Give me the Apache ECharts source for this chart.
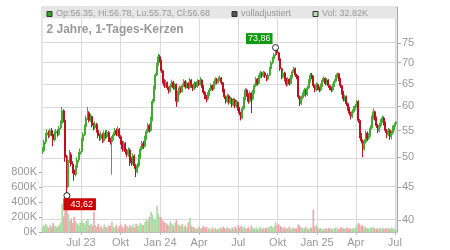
<!DOCTYPE html>
<html>
<head>
<meta charset="utf-8">
<script src="https://cdn.jsdelivr.net/npm/echarts@6/dist/echarts.min.js"></script>
<style>
  html, body { margin: 0; padding: 0; background: #fff; }
  #chart { width: 450px; height: 250px; }
</style>
</head>
<body>
<div id="chart"></div>
<script>
// two candles a week (Mon / Thu), first one on 2023-04-03
var startDay = '2023-04-03';

// [open, close, low, high]
var ohlc = [
  [51.0,51.2,50.6,51.8],[51.2,52.8,50.9,53.2],[52.8,54.0,52.4,54.5],[54.1,54.6,53.6,55.2],[54.6,54.0,53.5,55.0],
  [54.0,55.0,53.7,55.4],[55.0,54.3,53.9,55.5],[54.3,53.2,52.0,54.6],[53.2,54.5,52.9,54.9],[54.5,54.8,54.0,55.3],
  [54.8,54.2,53.8,55.2],[54.2,55.5,54.0,55.9],[55.5,56.4,55.2,57.0],[56.4,59.0,56.2,59.8],[59.0,57.0,56.6,59.3],
  [57.0,50.0,49.2,57.3],[50.0,45.0,43.62,50.4],[45.0,49.5,44.8,50.2],[49.5,50.5,49.0,51.3],[50.5,48.8,48.4,50.9],
  [48.8,47.8,47.2,49.3],[47.8,47.0,46.0,48.2],[47.0,48.2,46.7,48.6],[48.2,49.5,47.9,50.0],[49.5,50.5,49.1,51.0],
  [50.5,51.0,50.0,51.6],[51.0,53.0,50.8,53.5],[53.0,54.2,52.6,54.6],[54.2,55.8,53.9,56.2],[55.8,57.5,55.4,58.0],
  [57.5,58.6,57.1,59.8],[58.6,57.0,56.6,58.9],[57.0,57.8,56.7,58.4],[57.8,56.0,55.6,58.0],[56.0,55.5,55.0,56.5],
  [55.5,56.2,55.2,56.8],[56.2,55.0,54.6,56.5],[55.0,54.0,53.5,55.3],[54.0,53.5,53.0,54.4],[53.5,54.2,53.2,54.8],
  [54.2,53.0,52.6,54.5],[53.0,54.5,52.8,55.0],[54.5,53.8,53.4,55.0],[53.8,54.6,53.5,55.1],[54.6,53.2,52.8,54.9],
  [53.2,52.8,52.3,53.6],[52.8,53.5,47.0,53.9],[53.5,54.2,53.1,54.7],[54.2,55.0,53.9,55.5],[55.0,54.3,53.9,55.4],
  [54.3,55.2,54.0,55.8],[55.2,53.8,53.4,55.5],[53.8,52.8,52.3,54.1],[52.8,51.5,51.0,53.0],[51.5,52.5,51.2,53.0],
  [52.5,51.0,50.5,52.8],[51.0,50.5,50.0,51.5],[50.5,51.3,50.1,51.8],[51.3,49.5,48.5,51.6],[49.5,49.0,48.5,50.0],
  [49.0,50.2,48.7,50.7],[50.2,48.5,48.0,50.5],[48.5,47.5,46.6,48.8],[47.5,48.5,47.2,49.0],[48.5,50.0,48.2,50.5],
  [50.0,51.5,49.7,52.0],[51.5,52.5,51.2,53.0],[52.5,52.0,51.5,53.0],[52.0,53.5,51.8,54.0],[53.5,54.8,53.2,55.3],
  [54.8,56.0,54.5,56.5],[56.0,55.0,54.6,56.3],[55.0,57.0,54.8,57.8],[57.0,61.0,56.8,61.5],[61.0,64.0,60.6,64.5],
  [64.0,67.0,63.6,67.5],[67.0,69.5,66.7,70.0],[69.5,71.5,69.2,72.3],[71.5,70.5,70.0,72.0],[70.5,68.0,67.5,70.8],
  [68.0,65.5,65.0,68.3],[65.5,64.5,64.0,66.0],[64.5,65.2,64.1,65.8],[65.2,64.0,63.5,65.5],[64.0,63.2,62.7,64.3],
  [63.2,64.5,63.0,65.0],[64.5,65.3,64.1,65.9],[65.3,64.0,63.6,65.6],[64.0,64.8,63.6,65.2],[64.8,61.0,59.8,65.0],
  [61.0,62.8,60.7,63.3],[62.8,64.0,62.4,64.5],[64.0,63.2,62.8,64.3],[63.2,64.5,63.0,65.0],[64.5,65.5,64.2,66.0],
  [65.5,64.2,63.8,65.8],[64.2,65.0,63.9,65.5],[65.0,64.0,63.6,65.3],[64.0,65.8,63.8,66.3],[65.8,64.5,64.0,66.0],
  [64.5,63.8,63.3,64.8],[63.8,65.0,63.5,65.5],[65.0,64.3,63.9,65.3],[64.3,65.5,64.0,66.0],[65.5,64.8,64.4,65.8],
  [64.8,65.8,64.5,66.5],[65.8,64.5,64.0,66.0],[64.5,63.0,62.5,64.7],[63.0,62.0,61.5,63.3],[62.0,61.5,60.8,62.4],
  [61.5,62.5,61.2,63.0],[62.5,63.5,62.2,64.0],[63.5,64.5,63.2,65.0],[64.5,63.8,63.3,64.8],[63.8,65.0,63.5,65.5],
  [65.0,66.0,64.7,66.5],[66.0,65.3,64.8,66.3],[65.3,66.0,65.0,66.6],[66.0,66.3,65.6,66.9],[66.3,65.2,64.7,66.5],
  [65.2,63.5,63.0,65.4],[63.5,62.0,61.5,63.8],[62.0,61.0,60.5,62.3],[61.0,62.2,60.7,62.7],[62.2,60.8,60.3,62.5],
  [60.8,61.5,60.4,62.0],[61.5,60.2,59.7,61.8],[60.2,61.3,59.9,61.8],[61.3,60.0,59.5,61.6],[60.0,60.8,59.6,61.3],
  [60.8,59.5,59.0,61.0],[59.5,58.5,58.0,59.8],[58.5,57.5,57.0,58.8],[57.5,59.5,57.3,60.0],[59.5,61.5,59.2,62.0],
  [61.5,63.5,61.2,64.0],[63.5,62.5,62.0,63.8],[62.5,61.0,60.5,62.8],[61.0,62.8,60.7,63.3],[62.8,61.5,58.5,63.0],
  [61.5,63.0,61.2,63.5],[63.0,64.5,62.7,65.0],[64.5,66.0,64.2,66.5],[66.0,65.0,64.5,66.3],[65.0,66.5,64.8,67.0],
  [66.5,67.5,66.2,68.0],[67.5,66.8,66.3,67.8],[66.8,67.5,66.5,68.0],[67.5,66.8,66.3,67.8],[66.8,66.0,65.5,67.0],
  [66.0,67.0,65.7,67.5],[67.0,68.5,66.7,69.0],[68.5,70.0,68.2,70.5],[70.0,71.0,69.6,71.5],[71.0,72.0,70.6,72.5],
  [72.0,73.2,71.6,73.86],[73.2,72.5,72.0,73.5],[72.5,71.0,70.5,72.8],[71.0,68.5,68.0,71.3],[68.5,66.5,66.0,68.8],
  [66.5,67.5,66.2,68.0],[67.5,66.0,65.5,67.8],[66.0,64.8,64.3,66.3],[64.8,66.0,64.5,66.5],[66.0,65.0,64.5,66.2],
  [65.0,66.5,64.8,67.0],[66.5,67.8,66.2,68.3],[67.8,68.5,67.5,69.0],[68.5,67.0,66.5,68.8],[67.0,66.5,66.0,67.3],
  [66.5,62.0,61.5,66.8],[62.0,60.5,60.0,62.3],[60.5,61.8,60.2,62.3],[61.8,62.5,61.4,63.0],[62.5,63.5,62.2,64.0],
  [63.5,62.5,62.0,63.8],[62.5,64.0,62.2,64.5],[64.0,65.5,63.7,66.0],[65.5,67.0,65.2,67.5],[67.0,66.5,66.0,67.5],
  [66.5,64.5,64.0,66.8],[64.5,63.5,63.0,64.8],[63.5,64.8,63.2,65.3],[64.8,64.0,63.5,65.0],[64.0,63.5,63.0,64.3],
  [63.5,64.5,63.2,65.0],[64.5,65.8,64.2,66.3],[65.8,66.2,65.4,66.7],[66.2,65.0,64.6,66.4],[65.0,65.8,64.7,66.3],
  [65.8,64.5,64.0,66.0],[64.5,64.0,63.5,64.8],[64.0,63.5,63.0,64.3],[63.5,64.5,63.2,65.0],[64.5,65.5,64.2,66.0],
  [65.5,66.5,65.2,67.0],[66.5,67.3,66.2,67.6],[67.3,66.0,65.5,67.5],[66.0,64.5,64.0,66.3],[64.5,63.0,62.5,64.8],
  [63.0,61.5,61.0,63.3],[61.5,62.0,61.0,62.5],[62.0,60.5,60.0,62.3],[60.5,59.5,59.0,60.8],[59.5,58.5,58.0,59.8],
  [58.5,57.8,57.2,58.8],[57.8,58.8,57.5,59.3],[58.8,59.5,58.5,60.0],[59.5,60.0,59.2,60.5],[60.0,61.0,59.7,61.3],
  [61.0,57.0,56.5,61.2],[57.0,54.0,53.5,57.3],[54.0,53.0,52.5,54.5],[53.0,51.5,50.0,53.3],[51.5,52.8,51.2,53.3],
  [52.8,54.5,52.5,55.0],[54.5,53.5,53.0,54.8],[53.5,54.0,53.2,54.5],[54.0,55.5,53.8,56.0],[55.5,57.5,55.2,58.0],
  [57.5,58.8,57.2,59.5],[58.8,57.5,57.0,59.0],[57.5,56.0,55.5,57.8],[56.0,55.0,54.5,56.3],[55.0,56.0,54.7,56.5],
  [56.0,56.8,55.6,57.3],[56.8,57.5,56.5,58.0],[57.5,56.5,56.0,57.8],[56.5,55.0,54.5,56.8],[55.0,54.2,53.5,55.3],
  [54.2,55.0,53.9,55.5],[55.0,53.8,53.2,55.3],[53.8,54.5,53.3,55.0],[54.5,55.5,54.2,56.0],[55.5,56.0,55.0,56.5],
  [56.35,56.68,55.73,56.78]
];

// volume in thousand shares
var volumes = [
  70,90,110,80,60,95,70,120,85,65,75,100,130,
  380,210,290,460,
  240,150,180,120,200,140,110,90,130,160,120,100,150,180,90,110,80,270,
  90,70,110,60,80,50,100,70,60,90,80,140,70,60,90,50,80,100,60,70,110,80,60,90,
  70,100,60,110,90,80,120,100,90,130,170,150,
  200,270,230,180,160,350,240,200,190,150,130,120,
  100,90,140,110,80,120,160,100,90,80,110,70,90,60,130,190,80,70,
  60,40,50,70,40,55,80,60,70,45,50,35,60,40,55,30,45,60,50,70,55,40,65,50,35,
  60,45,70,50,90,60,80,55,70,45,50,65,40,85,55,45,60,35,50,70,40,55,45,60,50,
  70,80,60,75,130,90,110,80,70,55,65,45,50,70,40,55,60,45,50,100,80,60,55,45,70,50,40,60,55,300,
  75,90,60,45,55,40,35,50,45,55,40,50,35,45,60,50,40,55,65,50,40,60,45,55,40,50,45,60,90,
  120,100,80,90,60,70,50,45,60,55,70,45,50,40,55,45,60,40,50,45,55,40,60,50,45,32.82
];

var quarterDates = ['2023-07-01', '2023-10-01', '2024-01-01', '2024-04-01', '2024-07-01',
  '2024-10-01', '2025-01-01', '2025-04-01', '2025-07-01'];
var quarterLabels = ['Jul 23', 'Okt', 'Jan 24', 'Apr', 'Jul', 'Okt', 'Jan 25', 'Apr', 'Jul'];
var priceTicks = [40, 45, 50, 55, 60, 65, 70, 75];
var volumeTicks = [0, 200000, 400000, 600000, 800000];
var priceMin = 38.33, priceMax = 85.33;

var upColor = '#44aa33', downColor = '#bb1122';
var upVol = '#a8daa0', downVol = '#f0a4ac';
var font = 'Liberation Sans, Arial, sans-serif';

function ts(s) {
  var p = s.split('-');
  return Date.UTC(+p[0], +p[1] - 1, +p[2]);
}

function deNum(v) {
  return v.toFixed(2).replace('.', ',');
}

var dates = [];
var d = ts(startDay);
for (var i = 0; i < ohlc.length; i++) {
  dates.push(d);
  d += (i % 2 === 0 ? 3 : 4) * 86400000;
}

var candles = [], volBars = [];
var maxI = 0, minI = 0;
for (var i = 0; i < ohlc.length; i++) {
  var q = ohlc[i];
  candles.push([dates[i], Math.log(q[0]), Math.log(q[1]), Math.log(q[2]), Math.log(q[3])]);
  volBars.push({
    value: [dates[i], volumes[i] * 1000],
    itemStyle: { color: q[1] >= q[0] ? upVol : downVol }
  });
  if (q[3] > ohlc[maxI][3]) maxI = i;
  if (q[2] < ohlc[minI][2]) minI = i;
}

var quarterTs = quarterDates.map(ts);
var logTicks = priceTicks.map(function (v) { return Math.log(v); });

// grid lines at the price ticks and the quarter starts
var gridLines = [];
logTicks.forEach(function (v) { gridLines.push({ yAxis: v }); });
quarterTs.forEach(function (v) { gridLines.push({ xAxis: v }); });

var last = ohlc[ohlc.length - 1];
var legendText = 'Op:' + last[0].toFixed(2) + ', Hi:' + last[3].toFixed(2) +
  ', Lo:' + last[2].toFixed(2) + ', Cl:' + last[1].toFixed(2);
var volText = 'Vol: ' + volumes[volumes.length - 1].toFixed(2) + 'K';

var gray = '#999';
var myChart = echarts.init(document.getElementById('chart'));

var option = {
  animation: false,
  grid: {
    left: 42, right: 53, top: 7, bottom: 18,
    show: true, borderColor: '#ccc', borderWidth: 1
  },
  xAxis: {
    type: 'value',
    min: ts('2023-04-01'),
    max: ts('2025-07-06'),
    axisLine: { lineStyle: { color: '#bbb' } },
    axisTick: { customValues: quarterTs, length: 3, lineStyle: { color: '#bbb' } },
    axisLabel: {
      customValues: quarterTs,
      color: gray, fontSize: 11, margin: 5, fontFamily: font,
      formatter: function (v) {
        for (var k = 0; k < quarterTs.length; k++) {
          if (Math.abs(quarterTs[k] - v) < 86400000) return quarterLabels[k];
        }
        return '';
      }
    },
    splitLine: { show: false }
  },
  yAxis: [{
    type: 'value',
    position: 'right',
    min: Math.log(priceMin),
    max: Math.log(priceMax),
    axisLine: { show: true, lineStyle: { color: '#aaa' } },
    axisTick: { show: true, customValues: logTicks, length: 4, lineStyle: { color: '#aaa' } },
    axisLabel: {
      customValues: logTicks,
      color: gray, fontSize: 11, margin: 5, fontFamily: font,
      formatter: function (v) { return Math.round(Math.exp(v)); }
    },
    splitLine: { show: false }
  }, {
    type: 'value',
    position: 'left',
    min: 0,
    max: 3000000,
    axisLine: { show: false },
    axisTick: { show: true, customValues: volumeTicks, length: 3, lineStyle: { color: '#aaa' } },
    axisLabel: {
      customValues: volumeTicks,
      color: gray, fontSize: 11, margin: 5, fontFamily: font,
      formatter: function (v) { return (v / 1000) + 'K'; }
    },
    splitLine: { show: false }
  }],
  series: [{
    name: 'Vol',
    type: 'bar',
    yAxisIndex: 1,
    data: volBars,
    barWidth: 1.6,
    z: 2
  }, {
    name: 'Kurs',
    type: 'candlestick',
    yAxisIndex: 0,
    data: candles,
    encode: { x: 0, y: [1, 2, 3, 4] },
    barWidth: 1.5,
    z: 3,
    itemStyle: {
      color: upColor, color0: downColor,
      borderColor: upColor, borderColor0: downColor,
      borderWidth: 1
    },
    markLine: {
      silent: true,
      z: 1,
      symbol: ['none', 'none'],
      label: { show: false },
      lineStyle: { color: '#dadada', width: 1, type: 'solid' },
      emphasis: { disabled: true },
      data: gridLines
    },
    markPoint: {
      silent: true,
      symbol: 'circle',
      symbolSize: 6,
      itemStyle: { color: '#fff', borderColor: '#222', borderWidth: 1 },
      data: [{
        coord: [dates[maxI], Math.log(ohlc[maxI][3])],
        label: {
          show: true, position: [-26, -11],
          formatter: deNum(ohlc[maxI][3]),
          color: '#fff', fontSize: 9, fontFamily: font,
          backgroundColor: '#129912', padding: [1, 2, 1, 2], lineHeight: 9
        }
      }, {
        coord: [dates[minI], Math.log(ohlc[minI][2])],
        label: {
          show: true, position: [0, 6],
          formatter: deNum(ohlc[minI][2]),
          color: '#fff', fontSize: 9, fontFamily: font,
          backgroundColor: '#cc0000', padding: [1, 3, 1, 7], lineHeight: 10
        }
      }]
    }
  }],
  graphic: [
    { type: 'rect', z: 10, shape: { x: 42.5, y: 8, width: 354, height: 10.5 }, style: { fill: '#e6e6e6' } },
    { type: 'rect', z: 11, shape: { x: 47, y: 11.5, width: 5, height: 5 }, style: { fill: '#3a9e2a', stroke: '#333', lineWidth: 1 } },
    { type: 'text', z: 11, x: 56, y: 14, style: { text: legendText, fill: gray, font: '9px ' + font, verticalAlign: 'middle' } },
    { type: 'rect', z: 11, shape: { x: 232, y: 11.5, width: 5, height: 5 }, style: { fill: '#555', stroke: '#333', lineWidth: 1 } },
    { type: 'text', z: 11, x: 241, y: 14, style: { text: 'volladjustiert', fill: gray, font: '9px ' + font, verticalAlign: 'middle' } },
    { type: 'rect', z: 11, shape: { x: 313, y: 11.5, width: 5, height: 5 }, style: { fill: '#b8e0b0', stroke: '#333', lineWidth: 1 } },
    { type: 'text', z: 11, x: 322, y: 14, style: { text: volText, fill: gray, font: '9px ' + font, verticalAlign: 'middle' } },
    { type: 'text', z: 11, x: 46.5, y: 30, style: { text: '2 Jahre, 1-Tages-Kerzen', fill: gray, font: 'bold 12px ' + font, verticalAlign: 'middle' } }
  ]
};

myChart.setOption(option);
</script>
</body>
</html>
